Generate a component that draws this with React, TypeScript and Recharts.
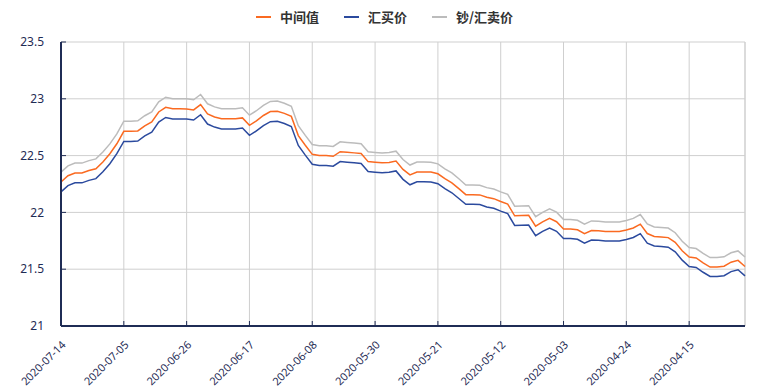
import { LineChart, Line, XAxis, YAxis, CartesianGrid, Legend, ReferenceLine } from 'recharts';

// 2020-07-14 back to 2020-04-07, one point per calendar day
const startDate = new Date(Date.UTC(2020, 6, 14));
const dates: string[] = Array.from({ length: 99 }, (_, i) => {
  const d = new Date(startDate.getTime() - i * 86400000);
  return d.toISOString().slice(0, 10);
});

const midRate = [
  22.268, 22.323, 22.347, 22.347, 22.369, 22.384, 22.444, 22.516, 22.604, 22.714,
  22.714, 22.717, 22.762, 22.796, 22.884, 22.925, 22.912, 22.912, 22.911, 22.902,
  22.949, 22.867, 22.84, 22.824, 22.824, 22.824, 22.832, 22.767, 22.806, 22.853,
  22.888, 22.891, 22.872, 22.845, 22.676, 22.591, 22.511, 22.5, 22.5, 22.494,
  22.534, 22.529, 22.524, 22.518, 22.447, 22.441, 22.436, 22.44, 22.452, 22.378,
  22.33, 22.356, 22.356, 22.355, 22.34, 22.297, 22.26, 22.209, 22.156, 22.156,
  22.154, 22.133, 22.121, 22.096, 22.074, 21.97, 21.972, 21.974, 21.879, 21.917,
  21.947, 21.918, 21.854, 21.854, 21.847, 21.813, 21.841, 21.838, 21.832, 21.832,
  21.832, 21.845, 21.863, 21.897, 21.814, 21.788, 21.783, 21.778, 21.737, 21.663,
  21.607, 21.599, 21.556, 21.519, 21.519, 21.526, 21.562, 21.578, 21.524,
];

const buyRate = [
  22.181, 22.236, 22.26, 22.26, 22.282, 22.297, 22.357, 22.429, 22.517, 22.625,
  22.625, 22.628, 22.673, 22.707, 22.795, 22.836, 22.823, 22.823, 22.822, 22.813,
  22.86, 22.778, 22.751, 22.735, 22.735, 22.735, 22.743, 22.678, 22.717, 22.764,
  22.799, 22.802, 22.783, 22.756, 22.589, 22.504, 22.424, 22.413, 22.413, 22.407,
  22.447, 22.442, 22.437, 22.431, 22.36, 22.354, 22.349, 22.353, 22.365, 22.291,
  22.243, 22.269, 22.269, 22.268, 22.253, 22.21, 22.173, 22.122, 22.071, 22.071,
  22.069, 22.048, 22.036, 22.011, 21.989, 21.885, 21.887, 21.889, 21.795, 21.833,
  21.863, 21.834, 21.77, 21.77, 21.763, 21.729, 21.757, 21.754, 21.748, 21.748,
  21.748, 21.761, 21.779, 21.813, 21.73, 21.704, 21.699, 21.694, 21.653, 21.58,
  21.524, 21.516, 21.473, 21.436, 21.436, 21.443, 21.479, 21.495, 21.441,
];

const sellRate = [
  22.355, 22.41, 22.434, 22.434, 22.456, 22.471, 22.531, 22.603, 22.691, 22.803,
  22.803, 22.806, 22.851, 22.885, 22.973, 23.014, 23.001, 23.001, 23.0, 22.991,
  23.038, 22.956, 22.929, 22.913, 22.913, 22.913, 22.921, 22.856, 22.895, 22.942,
  22.977, 22.98, 22.961, 22.934, 22.763, 22.678, 22.598, 22.587, 22.587, 22.581,
  22.621, 22.616, 22.611, 22.605, 22.534, 22.528, 22.523, 22.527, 22.539, 22.465,
  22.417, 22.443, 22.443, 22.442, 22.427, 22.384, 22.347, 22.296, 22.241, 22.241,
  22.239, 22.218, 22.206, 22.181, 22.159, 22.055, 22.057, 22.059, 21.963, 22.001,
  22.031, 22.002, 21.938, 21.938, 21.931, 21.897, 21.925, 21.922, 21.916, 21.916,
  21.916, 21.929, 21.947, 21.981, 21.898, 21.872, 21.867, 21.862, 21.821, 21.746,
  21.69, 21.682, 21.639, 21.602, 21.602, 21.609, 21.645, 21.661, 21.607,
];

const yTicks = [21, 21.5, 22, 22.5, 23, 23.5];

const series = [
  { key: 'mid', name: '中间值', color: '#fa6a21' },
  { key: 'buy', name: '汇买价', color: '#2b4a9e' },
  { key: 'sell', name: '钞/汇卖价', color: '#bcbcbc' },
];

const data = dates.map((date, i) => ({
  date,
  mid: midRate[i],
  buy: buyRate[i],
  sell: sellRate[i],
}));

const AXIS = '#1f2c55';
const GRID = '#cfcfcf';

function LegendContent() {
  return (
    <div style={{ display: 'flex', justifyContent: 'center', gap: 25, paddingLeft: 16, marginTop: -1, fontFamily: '"Noto Sans CJK SC", sans-serif', fontSize: 13, fontWeight: 700, color: '#333' }}>
      {series.map((s) => (
        <div key={s.key} style={{ display: 'flex', alignItems: 'center', gap: 9 }}>
          <span style={{ width: 15, height: 2, background: s.color, display: 'inline-block' }} />
          <span>{s.name}</span>
        </div>
      ))}
    </div>
  );
}

export default function App() {
  return (
    <LineChart width={752} height={384} data={data} margin={{ top: 0, right: 15, bottom: 6, left: 0 }}>
      <Legend verticalAlign="top" height={34} content={<LegendContent />} />
      <CartesianGrid stroke={GRID} strokeWidth={1} />
      <ReferenceLine x={dates[dates.length - 1]} stroke={GRID} />
      <XAxis
        dataKey="date"
        interval={8}
        height={60}
        angle={-45}
        textAnchor="end"
        tickSize={-5}
        tickMargin={19}
        stroke={AXIS}
        axisLine={{ stroke: AXIS, strokeWidth: 2 }}
        tickLine={{ stroke: AXIS }}
        tick={{ fill: AXIS, fontSize: 11, fontFamily: '"Noto Sans", sans-serif' }}
      />
      <YAxis
        domain={[21, 23.5]}
        ticks={yTicks}
        width={53}
        tickSize={-5}
        tickMargin={22}
        axisLine={{ stroke: AXIS, strokeWidth: 2 }}
        tickLine={{ stroke: AXIS }}
        tick={{ fill: AXIS, fontSize: 12, fontFamily: '"Noto Sans", sans-serif' }}
      />
      {series.map((s) => (
        <Line
          key={s.key}
          dataKey={s.key}
          name={s.name}
          stroke={s.color}
          strokeWidth={1.5}
          dot={false}
          type="linear"
          isAnimationActive={false}
        />
      ))}
    </LineChart>
  );
}
